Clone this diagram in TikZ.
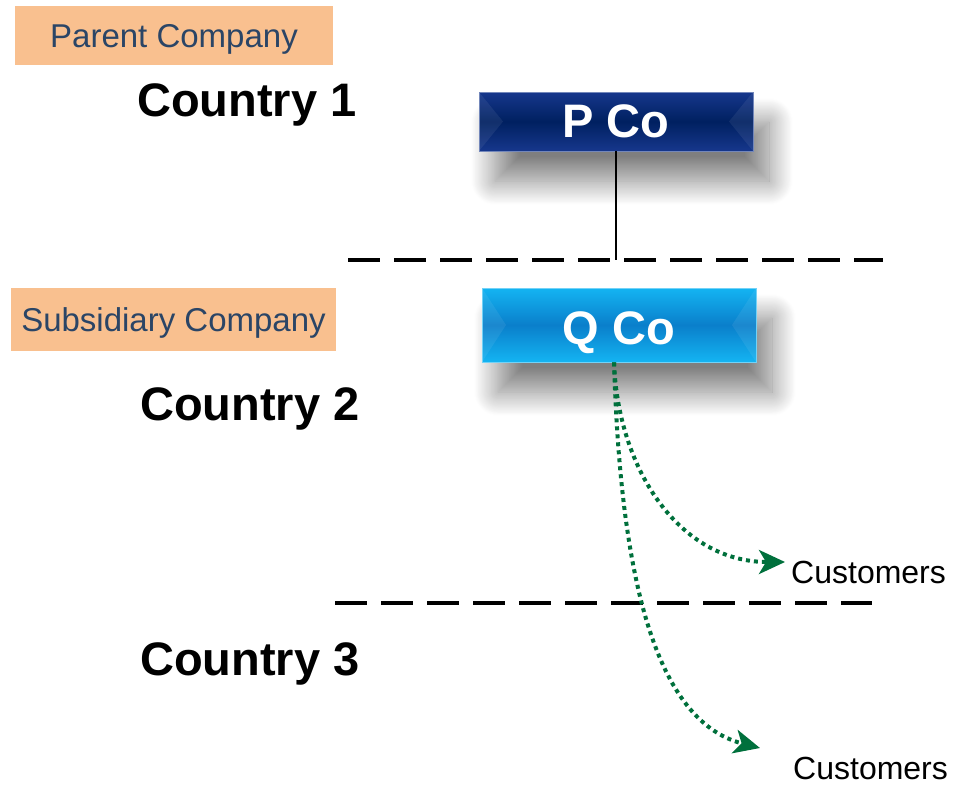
\documentclass[tikz,border=0pt]{standalone}
\usepackage{fontspec}
\setmainfont{Liberation Sans}
\usetikzlibrary{arrows.meta,shadows.blur}
\definecolor{pNavy}{HTML}{002060}
\definecolor{pNavyLt}{HTML}{16378C}
\definecolor{pBlue}{HTML}{0A7FCB}
\definecolor{pBlueLt}{HTML}{14B4F2}
\definecolor{pOrange}{HTML}{F9C08F}
\definecolor{pSlate}{HTML}{2B4566}
\definecolor{pGreen}{HTML}{00703C}
\tikzset{
    bevel/.style={path picture={
        \fill[white,opacity=0.07] (path picture bounding box.north west) -- ([xshift=24pt]path picture bounding box.west) -- (path picture bounding box.south west) -- cycle;
        \fill[white,opacity=0.07] (path picture bounding box.north east) -- ([xshift=-24pt]path picture bounding box.east) -- (path picture bounding box.south east) -- cycle;}},
    co/.style={rectangle, bevel, inner sep=0pt, minimum width=274pt, text=white, text depth=0pt,
        font=\fontsize{47}{49}\selectfont\bfseries,
        blur shadow={shadow xshift=16pt, shadow yshift=-30pt, shadow blur radius=24pt, shadow blur steps=30, shadow opacity=50}},
    tag/.style={rectangle, fill=pOrange, inner sep=0pt, text depth=0pt, text=pSlate, font=\fontsize{33}{36}\selectfont},
    country/.style={anchor=base west, inner sep=0pt, font=\fontsize{47}{50}\selectfont\bfseries},
    cust/.style={anchor=base west, inner sep=0pt, font=\fontsize{32}{34}\selectfont},
    border/.style={line width=4pt, dash pattern=on 32pt off 14pt},
    sale/.style={pGreen, line width=4pt, dash pattern=on 4pt off 4pt, -{Stealth[length=26pt,width=24pt,inset=7pt]}}
}
\begin{document}
\begin{tikzpicture}[x=1pt,y=-1pt]
\useasboundingbox (0,0) rectangle (957,787);
\node[tag,minimum width=318pt,minimum height=59pt] (parent) at (174,35.5) {Parent Company};
\node[tag,minimum width=325pt,minimum height=63pt] (subsid) at (173.5,319.5) {Subsidiary Company};
\node[country] (c1) at (137,116) {Country 1};
\node[country] (c2) at (140,420) {Country 2};
\node[country] (c3) at (140,675) {Country 3};
\coordinate (b1w) at (348,260);
\coordinate (b1e) at (883,260);
\coordinate (b2w) at (335,603);
\coordinate (b2e) at (872,603);
\coordinate (t1) at (785,562);
\coordinate (t2) at (760,748);
\node[co,minimum height=59pt,top color=pNavyLt,bottom color=pNavyLt,middle color=pNavy,draw=pNavyLt!60!white,line width=0.8pt] (pco) at (616,121.5) {P Co};
\node[co,minimum height=74pt,top color=pBlueLt,bottom color=pBlueLt,middle color=pBlue,draw=pBlueLt!60!white,line width=0.8pt] (qco) at (619,325) {\raisebox{-6pt}{Q Co}};
\draw[line width=1.2pt] (pco.south) -- (pco.south |- b1w);
\draw[border] (b1w) -- (b1e);
\draw[border] (b2w) -- (b2e);
\node[cust] (cus1) at (791,583) {Customers};
\node[cust] (cus2) at (793,779) {Customers};
\draw[sale] ([xshift=-5pt]qco.south) .. controls (618,470) and (680,562) .. (t1);
\draw[sale] ([xshift=-5pt]qco.south) .. controls (620,560) and (650,720) .. (t2);
\end{tikzpicture}
\end{document}
